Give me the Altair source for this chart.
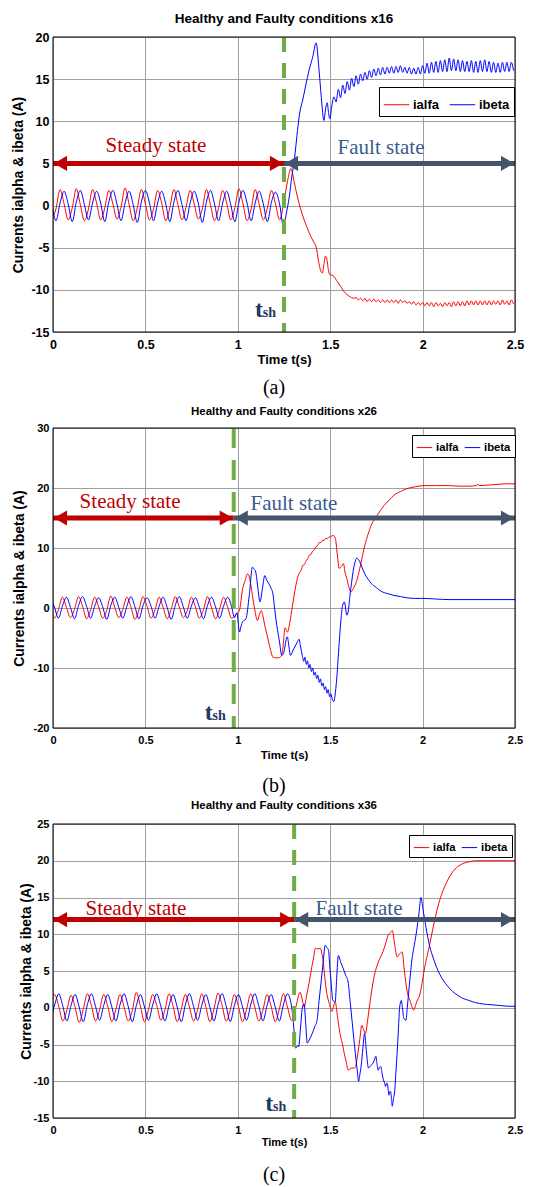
import altair as alt
import pandas as pd

SERIES = ["ialfa", "ibeta"]
COLORS = ["#ff0000", "#0000ff"]

# ======================= panel (a)  x16 =======================
A_TSH = 1.25
A_STEADY_T0, A_STEADY_DT = -0.006, 0.022
A_RED_STEADY = [
    -1.6, -0.4, 1.9, 0.2, -1.7, -0.3, 2.0, 0.1, -1.8, -0.4, 1.9, 0.3,
    -1.7, -0.3, 1.8, 0.2, -1.6, -0.2, 2.1, 0.1, -1.8, -0.3, 1.9, 0.2,
    -1.7, -0.4, 1.8, 0.3, -1.8, -0.3, 1.9, 0.1, -1.7, -0.2, 1.8, 0.2,
    -1.6, -0.4, 1.9, 0.1, -1.8, -0.3, 1.8, 0.3, -1.7, -0.3, 2.0, 0.2,
    -1.8, -0.4, 1.9, 0.1, -1.7, -0.3, 1.8, 0.2, -1.7]
A_BLUE_STEADY = [
    0.3, -1.8, 0.3, 1.7, 0.2, -1.9, 0.4, 1.8, 0.1, -1.7, 0.3, 1.7,
    0.3, -1.9, 0.4, 1.8, 0.2, -1.8, 0.3, 1.7, 0.1, -2.0, 0.4, 1.8,
    0.3, -1.8, 0.3, 1.7, 0.2, -1.9, 0.4, 1.8, 0.1, -1.8, 0.3, 1.7,
    0.3, -2.0, 0.4, 1.8, 0.2, -1.8, 0.3, 1.7, 0.1, -1.9, 0.4, 1.8,
    0.3, -1.8, 0.3, 1.7, 0.2, -1.9, 0.4, 1.6, 0.2]
A_RED_FAULT_T = [1.25, 1.27, 1.288, 1.305, 1.323, 1.34, 1.359, 1.375, 1.394, 1.41,
                 1.424, 1.436, 1.45, 1.458, 1.466, 1.474, 1.482, 1.49, 1.498, 1.515,
                 1.535, 1.557, 1.575, 1.593, 1.615, 1.63]
A_RED_FAULT_V = [0.5, 3.0, 4.4, 2.8, 1.0, -0.4, -1.7, -2.6, -3.6, -4.3,
                 -4.9, -6.5, -7.8, -8.0, -7.0, -6.0, -6.4, -7.6, -8.2, -8.3,
                 -8.9, -9.6, -10.2, -10.6, -10.9, -11.0]
A_RED_RIPPLE_T0, A_RED_RIPPLE_DT = 1.64, 0.012
A_RED_RIPPLE = [
    -10.9, -11.2, -11.0, -11.3, -11.0, -11.4, -11.1, -11.4, -11.1, -11.4,
    -11.2, -11.5, -11.2, -11.5, -11.2, -11.5, -11.2, -11.5, -11.2, -11.6,
    -11.2, -11.5, -11.3, -11.6, -11.4, -11.7, -11.4, -11.8, -11.5, -11.8,
    -11.5, -11.9, -11.5, -11.9, -11.5, -12.0, -11.5, -11.9, -11.6, -12.0,
    -11.5, -11.9, -11.5, -12.0, -11.4, -11.9, -11.4, -11.9, -11.4, -11.9,
    -11.3, -11.8, -11.3, -11.8, -11.3, -11.8, -11.3, -11.8, -11.3, -11.8,
    -11.3, -11.8, -11.3, -11.7, -11.3, -11.8, -11.2, -11.7, -11.3, -11.8,
    -11.2, -11.7]
A_BLUE_FAULT_T = [1.248, 1.262, 1.279, 1.292, 1.306, 1.323, 1.335, 1.35, 1.368, 1.385,
                  1.405, 1.424, 1.438, 1.452, 1.466, 1.476, 1.484, 1.49, 1.498, 1.51]
A_BLUE_FAULT_V = [-2.6, -1.0, 1.1, 3.4, 5.4, 8.9, 11.0, 12.4, 14.3, 16.0,
                  17.6, 19.3, 16.5, 12.8, 10.1, 11.6, 12.2, 11.2, 10.3, 12.0]
A_BLUE_RIPPLE_T0, A_BLUE_RIPPLE_DT = 1.52, 0.012
A_BLUE_RIPPLE = [
    12.9, 12.3, 13.8, 12.8, 14.3, 13.3, 14.7, 13.7, 15.1, 14.1,
    15.4, 14.4, 15.6, 14.8, 15.8, 15.0, 16.0, 15.2, 16.2, 15.4,
    16.3, 15.5, 16.4, 15.6, 16.4, 15.7, 16.5, 15.7, 16.5, 15.8,
    16.6, 15.8, 16.4, 15.7, 16.4, 15.6, 16.3, 15.6, 16.4, 15.6,
    16.6, 15.7, 16.9, 15.7, 17.0, 15.8, 17.1, 15.8, 17.2, 15.9,
    17.3, 15.9, 17.5, 16.0, 17.4, 16.0, 17.3, 15.9, 17.2, 15.9,
    17.1, 15.9, 17.2, 15.8, 17.1, 15.8, 17.2, 15.9, 17.3, 15.9,
    17.1, 15.8, 17.0, 15.8, 16.9, 15.8, 17.0, 15.9, 17.0, 15.9,
    17.0, 16.0]

# ======================= panel (b)  x26 =======================
B_TSH = 0.978
B_STEADY_T0, B_STEADY_DT = -0.0144, 0.0218
B_RED_STEADY = [
    0.2, -1.7, -0.3, 1.8, 0.1, -1.6, -0.2, 1.9, 0.3, -1.8, -0.3, 1.8,
    0.2, -1.7, -0.4, 2.0, 0.1, -1.6, -0.2, 1.8, 0.2, -1.9, -0.3, 1.9,
    0.3, -1.7, -0.3, 1.8, 0.1, -1.8, -0.2, 1.9, 0.2, -1.6, -0.4, 1.8,
    0.2, -1.7, -0.3, 1.9, 0.1, -1.8, -0.2, 1.8, 0.2, -1.7]
B_BLUE_STEADY = [
    1.7, 0.2, -1.7, 0.3, 1.8, 0.1, -1.8, 0.4, 1.9, 0.3, -1.7, 0.3,
    1.7, 0.2, -1.9, 0.4, 1.8, 0.1, -1.7, 0.3, 1.9, 0.2, -1.8, 0.4,
    1.7, 0.3, -1.7, 0.3, 1.8, 0.1, -1.9, 0.4, 1.9, 0.2, -1.7, 0.3,
    1.7, 0.1, -1.8, 0.4, 1.8, 0.2, -1.7, 0.3, 1.8, 0.2]
B_RED_FAULT_T = [
    0.982, 0.995, 1.009, 1.026, 1.04, 1.053, 1.062, 1.079, 1.092, 1.106,
    1.118, 1.127, 1.137, 1.146, 1.157, 1.167, 1.178, 1.19, 1.205, 1.22,
    1.232, 1.24, 1.248, 1.255, 1.262, 1.269, 1.282, 1.295, 1.308, 1.32,
    1.331, 1.342, 1.352, 1.362, 1.37, 1.38, 1.387, 1.395, 1.405, 1.415,
    1.423, 1.432, 1.44, 1.45, 1.458, 1.467, 1.476, 1.485, 1.493, 1.503,
    1.516, 1.528, 1.538, 1.549, 1.56, 1.572, 1.58, 1.59, 1.6, 1.613,
    1.624, 1.634, 1.642, 1.651, 1.67, 1.687, 1.705, 1.722, 1.74, 1.757,
    1.775, 1.792, 1.82, 1.845, 1.88, 1.915, 1.96, 2.003, 2.07, 2.144,
    2.2, 2.25, 2.29, 2.3, 2.31, 2.36, 2.408, 2.45, 2.5]
B_RED_FAULT_V = [
    -1.4, -0.9, -0.4, 3.2, 4.6, 5.7, 5.2, 2.1, -0.3, -2.1,
    -1.0, -0.4, -1.5, -2.9, -4.3, -5.7, -7.1, -8.2, -8.3, -8.3,
    -8.1, -7.6, -5.4, -3.3, -3.6, -4.0, -2.3, 0.2, 2.7, 4.6,
    5.7, 6.3, 7.1, 7.3, 7.9, 8.3, 8.8, 8.9, 9.5, 9.7,
    10.2, 10.4, 10.9, 10.9, 11.3, 11.3, 11.6, 11.6, 11.8, 11.9,
    12.1, 11.6, 9.0, 6.6, 6.9, 7.4, 6.0, 4.9, 3.6, 2.7,
    3.2, 3.8, 4.4, 5.4, 8.0, 10.4, 12.3, 13.8, 14.8, 15.6,
    16.4, 17.1, 18.0, 18.8, 19.4, 19.9, 20.2, 20.4, 20.4, 20.4,
    20.3, 20.3, 20.4, 20.6, 20.4, 20.5, 20.6, 20.7, 20.7]
B_BLUE_FAULT_T = [
    0.982, 0.995, 1.009, 1.018, 1.026, 1.044, 1.062, 1.079, 1.088, 1.097,
    1.108, 1.12, 1.133, 1.146, 1.157, 1.167, 1.18, 1.19, 1.2, 1.211,
    1.225, 1.238, 1.25, 1.26, 1.268, 1.277, 1.285, 1.297, 1.308, 1.32,
    1.331, 1.34, 1.349, 1.357, 1.363, 1.371, 1.377, 1.385, 1.391, 1.399,
    1.405, 1.413, 1.419, 1.427, 1.433, 1.441, 1.447, 1.455, 1.461, 1.469,
    1.475, 1.483, 1.489, 1.497, 1.503, 1.511, 1.519, 1.532, 1.549, 1.558,
    1.567, 1.577, 1.59, 1.598, 1.607, 1.616, 1.625, 1.634, 1.643, 1.66,
    1.673, 1.687, 1.705, 1.722, 1.75, 1.775, 1.81, 1.845, 1.88, 1.915,
    1.96, 2.003, 2.07, 2.144, 2.3, 2.5]
B_BLUE_FAULT_V = [
    -1.6, -0.8, -4.0, -3.0, -2.3, -1.8, 2.1, 6.8, 6.5, 6.0,
    3.5, 1.0, 3.2, 5.4, 4.6, 4.1, 3.3, 2.4, -0.3, -2.9,
    -5.5, -7.9, -7.3, -5.5, -4.8, -6.5, -7.9, -7.2, -6.5, -5.8,
    -5.2, -6.5, -7.9, -8.9, -8.2, -9.4, -8.8, -10.0, -9.4, -10.6,
    -10.0, -11.2, -10.7, -11.8, -11.2, -12.4, -11.8, -13.0, -12.5, -13.6,
    -13.1, -14.2, -13.6, -14.8, -14.3, -15.2, -15.6, -12.9, -5.7, -2.0,
    0.4, 1.0, -1.2, -0.5, 2.1, 4.3, 6.3, 7.6, 8.3, 7.7,
    6.7, 5.7, 4.8, 4.1, 3.4, 2.8, 2.4, 2.1, 1.9, 1.7,
    1.6, 1.6, 1.5, 1.4, 1.4, 1.4]

# ======================= panel (c)  x36 =======================
C_TSH = 1.305
C_STEADY_T0, C_STEADY_DT = -0.0131, 0.0221
C_RED_STEADY = [
    -0.2, 1.8, 0.2, -1.8, -0.3, 1.7, 0.1, -2.0, -0.2, 1.9, 0.3, -1.8,
    -0.3, 1.8, 0.2, -1.9, -0.2, 1.8, 0.1, -1.8, -0.4, 2.1, 0.2, -1.9,
    -0.2, 1.8, 0.3, -1.7, -0.3, 1.9, 0.2, -1.9, -0.2, 1.8, 0.1, -1.8,
    -0.3, 1.9, 0.2, -1.9, -0.2, 2.0, 0.3, -1.8, -0.3, 1.8, 0.2, -1.9,
    -0.2, 1.9, 0.1, -1.8, -0.3, 1.8, 0.2, -1.9, -0.2, 1.9, 0.1, -1.7]
C_BLUE_STEADY = [
    -1.7, 0.4, 1.9, 0.2, -1.8, 0.3, 1.8, 0.1, -1.9, 0.4, 1.9, 0.2,
    -1.7, 0.3, 1.8, 0.1, -1.8, 0.4, 1.9, 0.2, -1.9, 0.3, 1.8, 0.1,
    -1.7, 0.4, 1.9, 0.2, -1.8, 0.3, 1.8, 0.1, -1.9, 0.4, 1.9, 0.2,
    -1.7, 0.3, 1.8, 0.1, -1.8, 0.4, 1.9, 0.2, -1.9, 0.3, 1.8, 0.1,
    -1.7, 0.4, 1.9, 0.2, -1.8, 0.3, 1.8, 0.1, -1.8, 0.4, 1.9, 0.2]
C_RED_FAULT_T = [
    1.314, 1.337, 1.348, 1.359, 1.372, 1.385, 1.4, 1.41, 1.42, 1.433,
    1.447, 1.454, 1.461, 1.47, 1.482, 1.495, 1.509, 1.518, 1.527, 1.54,
    1.553, 1.565, 1.576, 1.587, 1.597, 1.608, 1.618, 1.627, 1.636, 1.643,
    1.65, 1.66, 1.671, 1.681, 1.691, 1.702, 1.712, 1.725, 1.739, 1.752,
    1.765, 1.778, 1.792, 1.803, 1.814, 1.825, 1.836, 1.849, 1.862, 1.875,
    1.889, 1.902, 1.915, 1.933, 1.951, 1.968, 1.986, 2.0, 2.012, 2.025,
    2.039, 2.052, 2.065, 2.078, 2.092, 2.11, 2.127, 2.145, 2.163, 2.19,
    2.216, 2.25, 2.286, 2.33, 2.375, 2.45, 2.5]
C_RED_FAULT_V = [
    0.1, 2.1, 1.2, 0.1, 1.6, 3.3, 5.5, 6.8, 8.1, 8.0,
    8.1, 7.5, 6.5, 4.3, 1.9, 0.6, -0.5, 0.2, 0.8, -1.3,
    -3.5, -4.8, -6.2, -7.4, -8.5, -8.3, -8.2, -8.2, -8.1, -7.3,
    -6.2, -4.3, -2.4, -3.0, -3.5, -1.8, 0.1, 2.4, 4.4, 5.6,
    6.5, 7.2, 8.1, 9.0, 9.9, 10.2, 10.5, 8.6, 6.9, 7.3,
    7.6, 4.9, 2.4, 0.9, -0.3, 0.8, 1.9, 3.8, 5.6, 7.1,
    8.7, 10.3, 11.9, 13.3, 14.6, 15.9, 16.9, 17.8, 18.5, 19.2,
    19.6, 19.85, 20.0, 20.0, 20.0, 20.0, 20.0]
C_BLUE_FAULT_T = [
    1.306, 1.314, 1.322, 1.329, 1.34, 1.35, 1.359, 1.367, 1.376, 1.39,
    1.403, 1.416, 1.429, 1.44, 1.452, 1.462, 1.473, 1.482, 1.491, 1.498,
    1.504, 1.514, 1.52, 1.527, 1.535, 1.544, 1.557, 1.571, 1.584, 1.597,
    1.608, 1.618, 1.627, 1.636, 1.645, 1.654, 1.661, 1.668, 1.677, 1.686,
    1.696, 1.707, 1.718, 1.73, 1.739, 1.747, 1.753, 1.76, 1.767, 1.774,
    1.781, 1.788, 1.794, 1.8, 1.805, 1.809, 1.814, 1.818, 1.823, 1.827,
    1.832, 1.836, 1.842, 1.848, 1.855, 1.862, 1.869, 1.876, 1.885, 1.891,
    1.898, 1.91, 1.917, 1.924, 1.933, 1.942, 1.955, 1.968, 1.98, 1.991,
    2.002, 2.012, 2.025, 2.039, 2.056, 2.074, 2.092, 2.11, 2.137, 2.163,
    2.19, 2.216, 2.25, 2.286, 2.33, 2.375, 2.42, 2.472, 2.5]
C_BLUE_FAULT_V = [
    -3.5, -5.5, -5.2, -5.3, -2.5, 0.1, 0.5, -2.0, -4.8, -4.2,
    -3.5, -2.6, -1.7, 1.0, 3.8, 6.2, 8.5, 8.2, 7.8, 5.5,
    3.8, 1.0, 0.9, 0.8, 4.0, 7.1, 6.2, 5.3, 4.4, 3.5,
    0.8, -1.7, -4.0, -6.2, -8.2, -10.0, -9.0, -7.8, -5.5, -3.5,
    -6.0, -8.2, -7.9, -7.6, -7.1, -6.6, -7.6, -8.5, -8.1, -8.0,
    -9.0, -9.8, -10.2, -10.7, -10.3, -10.3, -11.2, -11.9, -11.4, -11.4,
    -12.5, -13.4, -12.4, -11.6, -9.0, -6.2, -3.0, 0.1, 1.0, 0.0,
    -1.4, -1.7, 0.0, 1.9, 4.3, 6.5, 8.5, 10.5, 12.8, 15.0,
    13.4, 11.9, 10.0, 8.3, 6.9, 5.6, 4.6, 3.8, 2.9, 2.2,
    1.7, 1.3, 1.0, 0.7, 0.5, 0.4, 0.3, 0.2, 0.2]

# annotation anchors (data units)
A_ARROW_Y, B_ARROW_Y, C_ARROW_Y = 5, 15, 12
A_STEADY_X, B_STEADY_X, C_STEADY_X = 0.557, 0.417, 0.449
A_FAULT_X, B_FAULT_X, C_FAULT_X = 1.775, 1.304, 1.656
A_TSH_Y, B_TSH_Y, C_TSH_Y = -13.2, -18.7, -14.0


def grid_seg(t0, dt, vals):
    return [t0 + i * dt for i in range(len(vals))], list(vals)


def build(name, segments):
    ts, vs = [], []
    for t, v in segments:
        ts += list(t)
        vs += list(v)
    return pd.DataFrame({"t": ts, "v": vs, "s": name})


df_a = pd.concat([
    build("ialfa", [grid_seg(A_STEADY_T0, A_STEADY_DT, A_RED_STEADY),
                    (A_RED_FAULT_T, A_RED_FAULT_V),
                    grid_seg(A_RED_RIPPLE_T0, A_RED_RIPPLE_DT, A_RED_RIPPLE)]),
    build("ibeta", [grid_seg(A_STEADY_T0, A_STEADY_DT, A_BLUE_STEADY),
                    (A_BLUE_FAULT_T, A_BLUE_FAULT_V),
                    grid_seg(A_BLUE_RIPPLE_T0, A_BLUE_RIPPLE_DT, A_BLUE_RIPPLE)]),
])
df_b = pd.concat([
    build("ialfa", [grid_seg(B_STEADY_T0, B_STEADY_DT, B_RED_STEADY),
                    (B_RED_FAULT_T, B_RED_FAULT_V)]),
    build("ibeta", [grid_seg(B_STEADY_T0, B_STEADY_DT, B_BLUE_STEADY),
                    (B_BLUE_FAULT_T, B_BLUE_FAULT_V)]),
])
df_c = pd.concat([
    build("ialfa", [grid_seg(C_STEADY_T0, C_STEADY_DT, C_RED_STEADY),
                    (C_RED_FAULT_T, C_RED_FAULT_V)]),
    build("ibeta", [grid_seg(C_STEADY_T0, C_STEADY_DT, C_BLUE_STEADY),
                    (C_BLUE_FAULT_T, C_BLUE_FAULT_V)]),
])

SANS = "Liberation Sans"
SERIF = "Liberation Serif"
W = 462
ONE = pd.DataFrame({"k": [0]})


def panel(df, H, ydom, yticks, tsh, arrow_y, steady_x, fault_x, tsh_y,
          title, caption, st, pad_top=None, pad_bottom=None):
    xs = alt.Scale(domain=[0, 2.5], nice=False, zero=False)
    ys = alt.Scale(domain=ydom, nice=False, zero=False)
    xaxis = alt.Axis(values=[0, 0.5, 1, 1.5, 2, 2.5], labelExpr="datum.value",
                     tickCount=20,
                     title="Time t(s)", grid=True, gridColor="#a0a0a0", gridWidth=1,
                     ticks=False, domain=False, labelFlush=False, labelOverlap=False,
                     labelFont=SANS, labelFontSize=st["lab"], labelFontWeight="bold",
                     labelColor="black", labelPadding=6,
                     titleFont=SANS, titleFontSize=st["xt"], titleFontWeight="bold",
                     titleColor="black", titleY=st["xty"], titleBaseline="middle")
    yaxis = alt.Axis(values=yticks, labelExpr="datum.value", tickCount=20,
                     title="Currents ialpha & ibeta (A)", grid=True,
                     gridColor="#a0a0a0", gridWidth=1, ticks=False, domain=False,
                     labelOverlap=False,
                     labelFont=SANS, labelFontSize=st["lab"], labelFontWeight="bold",
                     labelColor="black", labelPadding=4,
                     titleFont=SANS, titleFontSize=st["yt"], titleFontWeight="bold",
                     titleColor="black", titleX=st["ytx"], titleY=H / 2,
                     titleAlign="center", titleBaseline="middle", titleAngle=-90)
    legend = alt.Legend(orient="none", legendX=st["lx"], legendY=st["ly"],
                        direction="horizontal", symbolType="stroke",
                        symbolSize=st["sym"], symbolStrokeWidth=1,
                        labelFont=SANS, labelFontSize=st["lfs"], labelFontWeight="bold",
                        labelColor="black", labelOffset=3, columnPadding=st["cp"],
                        padding=st["lpad"], strokeColor="black", fillColor="white")
    lines = alt.Chart(df).mark_line(strokeWidth=1, clip=True, interpolate="monotone").encode(
        x=alt.X("t:Q", scale=xs, axis=xaxis),
        y=alt.Y("v:Q", scale=ys, axis=yaxis),
        color=alt.Color("s:N", scale=alt.Scale(domain=SERIES, range=COLORS),
                        legend=legend, title=None),
    )
    dashed = alt.Chart(pd.DataFrame({"t": [tsh]})).mark_rule(
        color="#70ad47", strokeWidth=4, strokeDash=st["dash"]).encode(x="t:Q")

    def arrow(t1, t2, color):
        shaft = alt.Chart(pd.DataFrame({"t": [t1], "t2": [t2], "v": [arrow_y]})).mark_rule(
            color=color, strokeWidth=5).encode(x="t:Q", x2="t2:Q", y="v:Q")
        left = alt.Chart(pd.DataFrame({"t": [t1], "v": [arrow_y]})).mark_point(
            shape="triangle-left", filled=True, size=230, color=color, opacity=1,
            xOffset=7.5).encode(x="t:Q", y="v:Q")
        right = alt.Chart(pd.DataFrame({"t": [t2], "v": [arrow_y]})).mark_point(
            shape="triangle-right", filled=True, size=230, color=color, opacity=1,
            xOffset=-7.5).encode(x="t:Q", y="v:Q")
        return [shaft, left, right]

    steady_txt = alt.Chart(pd.DataFrame({"t": [steady_x], "v": [arrow_y]})).mark_text(
        text="Steady state", font=SERIF, fontSize=21, color="#c00000",
        baseline="alphabetic", align="center", dy=st["sdy"]).encode(x="t:Q", y="v:Q")
    fault_txt = alt.Chart(pd.DataFrame({"t": [fault_x], "v": [arrow_y]})).mark_text(
        text="Fault state", font=SERIF, fontSize=21, color="#3b5b8c",
        baseline="alphabetic", align="center", dy=st["fdy"]).encode(x="t:Q", y="v:Q")
    t_big = alt.Chart(pd.DataFrame({"t": [tsh], "v": [tsh_y]})).mark_text(
        text="t", font=SERIF, fontSize=24, fontWeight="bold", color="#1f3a5f",
        baseline="alphabetic", align="right", dx=-21).encode(x="t:Q", y="v:Q")
    t_sub = alt.Chart(pd.DataFrame({"t": [tsh], "v": [tsh_y]})).mark_text(
        text="sh", font=SERIF, fontSize=14, fontWeight="bold", color="#1f3a5f",
        baseline="alphabetic", align="right", dx=-8).encode(x="t:Q", y="v:Q")
    ttl = alt.Chart(ONE).mark_text(
        text=title, font=SANS, fontSize=st["tfs"], fontWeight="bold", color="black",
        baseline="middle", align="center").encode(x=alt.value(W / 2), y=alt.value(st["ty"]))
    cap = alt.Chart(ONE).mark_text(
        text=caption, font=SERIF, fontSize=20, color="black",
        baseline="middle", align="center").encode(x=alt.value(221), y=alt.value(H + st["cy"]))
    frame = alt.Chart(ONE).mark_rect(filled=False, color="black", strokeWidth=1).encode(
        x=alt.value(0), x2=alt.value(W), y=alt.value(0), y2=alt.value(H))

    layers = [lines, dashed] + arrow(0, tsh, "#c00000") + arrow(tsh, 2.5, "#44546a") + [
        steady_txt, fault_txt, t_big, t_sub, ttl, cap, frame]
    # invisible page-margin anchors so the page is exactly the reference size
    if pad_top is not None:
        layers.append(alt.Chart(ONE).mark_rect(opacity=0).encode(
            x=alt.value(-53), x2=alt.value(W + 18), y=alt.value(-pad_top), y2=alt.value(0)))
    if pad_bottom is not None:
        layers.append(alt.Chart(ONE).mark_rect(opacity=0).encode(
            x=alt.value(-53), x2=alt.value(W + 18), y=alt.value(H), y2=alt.value(H + pad_bottom)))
    return alt.layer(*layers).properties(width=W, height=H)


pa = panel(df_a, 295, [-15, 20], [-15, -10, -5, 0, 5, 10, 15, 20], A_TSH, A_ARROW_Y,
           A_STEADY_X, A_FAULT_X, A_TSH_Y, "Healthy and Faulty conditions x16", "(a)",
           dict(lab=12.5, xt=13, xty=27, yt=14, ytx=-34.5, lx=326, ly=50, sym=650,
                lfs=13, cp=7, lpad=4, dash=[15, 11], sdy=-11.6, fdy=-9.5, tfs=13.5,
                ty=-18, cy=56), pad_top=37)
pb = panel(df_b, 300, [-20, 30], [-20, -10, 0, 10, 20, 30], B_TSH, B_ARROW_Y,
           B_STEADY_X, B_FAULT_X, B_TSH_Y, "Healthy and Faulty conditions x26", "(b)",
           dict(lab=11, xt=11.5, xty=27, yt=14, ytx=-33.5, lx=359, ly=7, sym=240,
                lfs=11.3, cp=3, lpad=4, dash=[20, 12], sdy=-10, fdy=-7.6, tfs=11.5,
                ty=-16.5, cy=58))
pc = panel(df_c, 294, [-15, 25], [-15, -10, -5, 0, 5, 10, 15, 20, 25], C_TSH, C_ARROW_Y,
           C_STEADY_X, C_FAULT_X, C_TSH_Y, "Healthy and Faulty conditions x36", "(c)",
           dict(lab=11, xt=11, xty=24, yt=14, ytx=-26.3, lx=356, ly=11, sym=240,
                lfs=11.3, cp=3, lpad=4, dash=[15, 11], sdy=-5, fdy=-5, tfs=11.5,
                ty=-18, cy=57), pad_bottom=69)

chart = alt.vconcat(pa, pb, pc, spacing=96, bounds="flush").resolve_scale(
    color="independent", x="independent", y="independent"
).resolve_legend(color="independent").properties(
    autosize=alt.AutoSizeParams(type="pad"),
    padding=0,
    background="white",
).configure_view(stroke=None)

chart.save("out.html", embed_options={"renderer": "svg", "actions": False})
